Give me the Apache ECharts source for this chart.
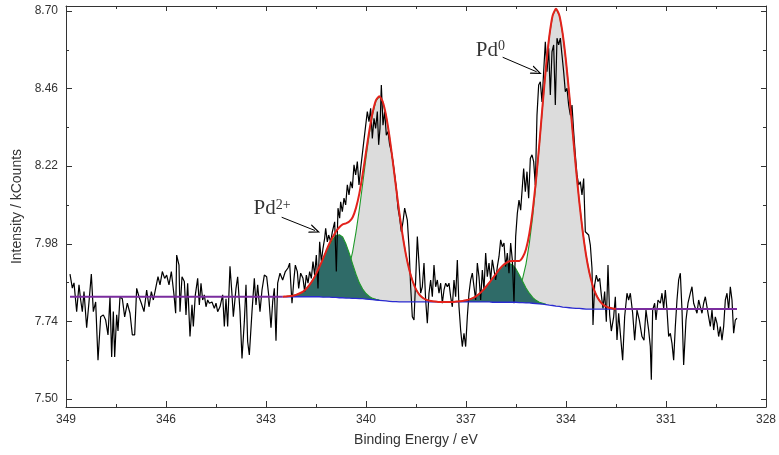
<!DOCTYPE html>
<html>
<head>
<meta charset="utf-8">
<title>Pd 3d XPS</title>
<script src="https://cdn.jsdelivr.net/npm/echarts@6/dist/echarts.min.js"></script>
<style>
  html, body { margin: 0; padding: 0; background: #ffffff; }
  #chart { width: 779px; height: 455px; }
</style>
</head>
<body>
<div id="chart"></div>
<script>
// Measured Pd 3d spectrum: [binding energy (eV), intensity (kCounts)]
const spectrum = [
  [348.88,7.886],[348.81,7.843],[348.76,7.859],[348.68,7.770],[348.61,7.853],[348.56,7.806],[348.51,7.770],[348.46,7.832],[348.38,7.720],[348.31,7.800],
  [348.24,7.886],[348.18,7.770],[348.11,7.800],[348.04,7.620],[347.96,7.754],[347.88,7.760],[347.81,7.744],[347.74,7.698],[347.68,7.816],[347.63,7.630],
  [347.58,7.770],[347.54,7.630],[347.48,7.760],[347.44,7.710],[347.38,7.816],[347.31,7.810],[347.24,7.754],[347.16,7.796],[347.08,7.765],[347.01,7.698],
  [346.94,7.698],[346.88,7.842],[346.81,7.816],[346.74,7.796],[346.66,7.770],[346.58,7.837],[346.51,7.785],[346.44,7.832],[346.38,7.806],[346.31,7.842],
  [346.24,7.878],[346.18,7.853],[346.11,7.894],[346.04,7.873],[345.98,7.883],[345.91,7.853],[345.84,7.894],[345.76,7.822],[345.71,7.765],[345.68,7.945],
  [345.61,7.914],[345.58,7.770],[345.52,7.878],[345.45,7.863],[345.40,7.760],[345.35,7.858],[345.28,7.693],[345.22,7.791],[345.18,7.724],[345.12,7.822],
  [345.05,7.873],[345.00,7.791],[344.95,7.858],[344.90,7.806],[344.85,7.822],[344.80,7.785],[344.75,7.806],[344.70,7.796],[344.62,7.800],[344.55,7.780],
  [344.50,7.796],[344.45,7.770],[344.38,7.785],[344.30,7.822],[344.25,7.724],[344.20,7.810],[344.15,7.724],[344.08,7.910],[344.02,7.822],[343.98,7.754],
  [343.90,7.842],[343.85,7.878],[343.78,7.770],[343.72,7.625],[343.65,7.739],[343.60,7.853],[343.55,7.677],[343.50,7.636],[343.42,7.770],[343.35,7.873],
  [343.30,7.791],[343.25,7.853],[343.18,7.770],[343.12,7.837],[343.05,7.883],[342.98,7.878],[342.92,7.822],[342.85,7.720],[342.80,7.800],[342.75,7.842],
  [342.70,7.680],[342.65,7.858],[342.58,7.889],[342.50,7.868],[342.42,7.894],[342.34,7.905],[342.29,7.920],[342.26,7.863],[342.22,7.796],[342.16,7.873],
  [342.12,7.914],[342.06,7.894],[342.02,7.842],[341.96,7.889],[341.89,7.873],[341.84,7.832],[341.79,7.883],[341.74,7.858],[341.69,7.894],[341.64,7.873],
  [341.59,7.925],[341.54,7.883],[341.49,7.945],[341.44,7.842],[341.39,7.986],[341.34,7.925],[341.29,7.966],[341.24,7.997],[341.21,8.028],[341.16,7.986],
  [341.12,8.007],[341.06,7.986],[341.01,8.017],[340.94,8.048],[340.89,7.894],[340.84,8.090],[340.79,8.059],[340.76,8.110],[340.71,8.079],[340.66,8.121],
  [340.61,8.100],[340.56,8.162],[340.51,8.131],[340.46,8.172],[340.41,8.152],[340.36,8.224],[340.31,8.193],[340.26,8.234],[340.21,8.162],[340.16,8.213],
  [340.09,8.275],[340.02,8.337],[339.96,8.389],[339.91,8.358],[339.86,8.399],[339.81,8.306],[339.76,8.368],[339.71,8.337],[339.66,8.389],[339.62,8.286],
  [339.58,8.337],[339.54,8.471],[339.49,8.347],[339.44,8.389],[339.39,8.316],[339.34,8.327],[339.29,8.286],[339.24,8.265],[339.19,8.234],[339.14,8.193],
  [339.09,8.152],[339.04,8.090],[338.99,8.059],[338.94,8.017],[338.89,8.048],[338.84,8.090],[338.81,8.084],[338.76,8.053],[338.71,7.971],[338.66,7.847],
  [338.61,7.754],[338.56,7.744],[338.51,7.868],[338.46,8.002],[338.41,7.920],[338.36,7.827],[338.31,7.847],[338.26,7.920],[338.21,7.806],[338.16,7.734],
  [338.11,7.827],[338.06,7.868],[338.01,7.816],[337.96,7.914],[337.91,7.847],[337.86,7.868],[337.81,7.827],[337.76,7.858],[337.71,7.796],[337.66,7.837],
  [337.61,7.858],[337.56,7.847],[337.51,7.858],[337.46,7.816],[337.41,7.785],[337.36,7.868],[337.31,7.816],[337.26,7.930],[337.21,7.785],[337.16,7.713],
  [337.11,7.662],[337.06,7.703],[337.01,7.662],[336.96,7.754],[336.91,7.827],[336.86,7.868],[336.81,7.889],[336.76,7.847],[336.71,7.806],[336.66,7.920],
  [336.61,7.878],[336.56,7.806],[336.51,7.899],[336.46,7.837],[336.41,7.951],[336.36,7.878],[336.31,7.920],[336.26,7.868],[336.21,7.930],[336.16,7.899],
  [336.11,7.868],[336.06,7.909],[336.01,7.940],[335.96,7.992],[335.91,7.971],[335.86,7.982],[335.81,7.909],[335.76,7.951],[335.71,7.889],[335.66,7.982],
  [335.61,7.930],[335.56,7.796],[335.51,8.002],[335.46,8.074],[335.41,8.115],[335.36,8.084],[335.27,8.213],[335.22,8.141],[335.17,8.203],[335.12,8.121],
  [335.07,8.244],[335.02,8.255],[334.97,8.234],[334.92,8.162],[334.87,8.378],[334.82,8.471],[334.77,8.481],[334.72,8.419],[334.67,8.512],[334.62,8.605],
  [334.57,8.512],[334.52,8.585],[334.47,8.440],[334.42,8.574],[334.37,8.595],[334.32,8.409],[334.27,8.616],[334.22,8.595],[334.17,8.616],[334.12,8.564],
  [334.07,8.512],[334.02,8.450],[333.97,8.461],[333.92,8.409],[333.87,8.378],[333.82,8.409],[333.77,8.327],[333.72,8.255],[333.67,8.193],[333.62,8.162],
  [333.57,8.172],[333.52,8.131],[333.47,8.182],[333.42,8.017],[333.37,8.017],[333.32,8.007],[333.27,7.976],[333.22,7.904],[333.19,7.729],[333.14,7.853],
  [333.09,7.883],[333.04,7.863],[332.99,7.873],[332.94,7.822],[332.89,7.780],[332.84,7.832],[332.79,7.739],[332.74,7.914],[332.69,7.760],[332.64,7.710],
  [332.57,7.754],[332.52,7.816],[332.47,7.682],[332.42,7.765],[332.37,7.703],[332.30,7.620],[332.24,7.754],[332.17,7.827],[332.12,7.806],[332.07,7.827],
  [332.00,7.765],[331.94,7.682],[331.87,7.775],[331.80,7.744],[331.72,7.693],[331.66,7.682],[331.60,7.775],[331.52,7.713],[331.47,7.662],[331.44,7.559],
  [331.40,7.775],[331.34,7.796],[331.30,7.744],[331.24,7.806],[331.17,7.796],[331.12,7.827],[331.07,7.780],[331.02,7.837],[330.97,7.775],[330.92,7.693],
  [330.87,7.703],[330.82,7.672],[330.77,7.620],[330.72,7.724],[330.67,7.806],[330.62,7.868],[330.57,7.889],[330.52,7.775],[330.47,7.605],[330.40,7.744],
  [330.34,7.796],[330.27,7.827],[330.22,7.847],[330.17,7.796],[330.12,7.800],[330.07,7.765],[330.02,7.806],[329.97,7.785],[329.92,7.765],[329.87,7.796],
  [329.82,7.816],[329.77,7.785],[329.72,7.754],[329.67,7.724],[329.62,7.775],[329.57,7.713],[329.52,7.754],[329.47,7.734],[329.42,7.693],[329.37,7.724],
  [329.32,7.682],[329.27,7.724],[329.22,7.806],[329.17,7.827],[329.12,7.775],[329.07,7.847],[329.02,7.806],[328.97,7.703],[328.92,7.744],[328.87,7.750]
];

// Energy grid of the peak fit (eV)
const fitEnergy = [
  342.5,342.4,342.3,342.2,342.1,342.0,341.9,341.8,341.7,341.6,
  341.5,341.4,341.3,341.2,341.1,341.0,340.9,340.8,340.7,340.6,
  340.5,340.4,340.3,340.2,340.1,340.0,339.9,339.8,339.7,339.6,
  339.5,339.4,339.3,339.2,339.1,339.0,338.9,338.8,338.7,338.6,
  338.5,338.4,338.3,338.2,338.1,338.0,337.9,337.8,337.7,337.6,
  337.5,337.4,337.3,337.2,337.1,337.0,336.9,336.8,336.7,336.6,
  336.5,336.4,336.3,336.2,336.1,336.0,335.9,335.8,335.7,335.6,
  335.5,335.4,335.3,335.2,335.1,335.0,334.9,334.8,334.7,334.6,
  334.5,334.4,334.3,334.2,334.1,334.0,333.9,333.8,333.7,333.6,
  333.5,333.4,333.3,333.2,333.1,333.0,332.9,332.8,332.7,332.6,
  332.5
];

// Shirley background on the fit grid
const background = [
  7.816,7.816,7.816,7.816,7.816,7.816,7.816,7.816,7.816,7.816,
  7.816,7.816,7.815,7.815,7.815,7.814,7.814,7.813,7.813,7.812,
  7.812,7.811,7.811,7.810,7.810,7.809,7.808,7.807,7.806,7.805,
  7.804,7.803,7.802,7.801,7.801,7.800,7.800,7.800,7.800,7.800,
  7.800,7.800,7.800,7.800,7.800,7.800,7.800,7.800,7.800,7.800,
  7.800,7.800,7.800,7.800,7.800,7.800,7.800,7.800,7.800,7.800,
  7.800,7.800,7.800,7.799,7.799,7.799,7.799,7.799,7.799,7.799,
  7.799,7.798,7.798,7.797,7.797,7.796,7.795,7.794,7.793,7.792,
  7.790,7.789,7.787,7.786,7.784,7.783,7.782,7.781,7.780,7.780,
  7.779,7.778,7.778,7.778,7.778,7.778,7.778,7.778,7.778,7.778,
  7.778
];

// Fitted components above background: [energy, height]
const pd2Plus32 = [
  [342.4,0.001],[342.3,0.002],[342.2,0.003],[342.1,0.006],[342.0,0.010],[341.9,0.015],[341.8,0.024],[341.7,0.036],
  [341.6,0.051],[341.5,0.070],[341.4,0.092],[341.3,0.115],[341.2,0.139],[341.1,0.161],[341.0,0.179],[340.9,0.191],
  [340.8,0.195],[340.7,0.188],[340.6,0.167],[340.5,0.138],[340.4,0.106],[340.3,0.075],[340.2,0.049],[340.1,0.030],
  [340.0,0.017],[339.9,0.009],[339.8,0.004],[339.7,0.002],[339.6,0.001]
];
const pd0Metal32 = [
  [341.3,0.001],[341.2,0.002],[341.1,0.004],[341.0,0.007],[340.9,0.013],[340.8,0.023],[340.7,0.039],[340.6,0.064],
  [340.5,0.099],[340.4,0.145],[340.3,0.205],[340.2,0.276],[340.1,0.355],[340.0,0.437],[339.9,0.513],[339.8,0.575],
  [339.7,0.616],[339.6,0.630],[339.5,0.616],[339.4,0.575],[339.3,0.513],[339.2,0.437],[339.1,0.355],[339.0,0.276],
  [338.9,0.205],[338.8,0.145],[338.7,0.099],[338.6,0.064],[338.5,0.039],[338.4,0.023],[338.3,0.013],[338.2,0.007],
  [338.1,0.004],[338.0,0.002],[337.9,0.001]
];
const pd2Plus52 = [
  [337.3,0.001],[337.2,0.002],[337.1,0.003],[337.0,0.005],[336.9,0.008],[336.8,0.012],[336.7,0.017],[336.6,0.025],
  [336.5,0.035],[336.4,0.047],[336.3,0.060],[336.2,0.074],[336.1,0.088],[336.0,0.101],[335.9,0.111],[335.8,0.118],
  [335.7,0.120],[335.6,0.115],[335.5,0.103],[335.4,0.085],[335.3,0.065],[335.2,0.046],[335.1,0.030],[335.0,0.018],
  [334.9,0.010],[334.8,0.005],[334.7,0.003],[334.6,0.001]
];
const pd0Metal52 = [
  [336.0,0.001],[335.9,0.002],[335.8,0.003],[335.7,0.007],[335.6,0.013],[335.5,0.025],[335.4,0.044],[335.3,0.075],
  [335.2,0.120],[335.1,0.184],[335.0,0.268],[334.9,0.372],[334.8,0.490],[334.7,0.615],[334.6,0.734],[334.5,0.832],
  [334.4,0.897],[334.3,0.920],[334.2,0.901],[334.1,0.846],[334.0,0.762],[333.9,0.658],[333.8,0.545],[333.7,0.432],
  [333.6,0.329],[333.5,0.240],[333.4,0.168],[333.3,0.113],[333.2,0.073],[333.1,0.045],[333.0,0.027],[332.9,0.015],
  [332.8,0.008],[332.7,0.004],[332.6,0.002],[332.5,0.001]
];

// Axis ticks
const energyTickStep = 3;
const yMajorTicks = [7.50, 7.74, 7.98, 8.22, 8.46, 8.70];
const yMinorTicks = [7.62, 7.86, 8.10, 8.34, 8.58];

// Annotations: label anchor and arrow [from, to]
const labelPd0 = { text: '{b|Pd}{s|0}', at: [336.27, 8.579] };
const labelPd2 = { text: '{b|Pd}{s|2+}', at: [342.82, 8.088] };
const arrowPd0 = [[335.90, 8.557], [334.88, 8.512]];
const arrowPd2 = [[342.53, 8.062], [341.53, 8.021]];

// ---- derived series ----
const key = e => e.toFixed(1);
const bgAt = new Map(fitEnergy.map((e, i) => [key(e), background[i]]));
const components = [pd2Plus32, pd0Metal32, pd2Plus52, pd0Metal52];
const envelope = fitEnergy.map((e, i) => {
  let sum = background[i];
  components.forEach(c => {
    const hit = c.find(p => key(p[0]) === key(e));
    if (hit) sum += hit[1];
  });
  return [e, sum];
});
const bgLine = fitEnergy.map((e, i) => [e, background[i]]);
const leftFlat = [[spectrum[0][0], background[0]], [fitEnergy[0], background[0]]];
const rightFlat = [[fitEnergy[fitEnergy.length - 1], background[background.length - 1]],
                   [spectrum[spectrum.length - 1][0], background[background.length - 1]]];

const AX = '#333333';
const SANS = '"Liberation Sans", Arial, Helvetica, sans-serif';
const SERIF = '"Liberation Serif", "Times New Roman", serif';
const Y_MIN = 7.475, Y_MAX = 8.7155;

function fillSeries(comp, color, z) {
  const peak = comp.reduce((a, b) => (b[1] > a[1] ? b : a));
  return {
    type: 'custom',
    coordinateSystem: 'cartesian2d',
    silent: true,
    z: z,
    data: [[peak[0], bgAt.get(key(peak[0])) + peak[1]]],
    renderItem: function (params, api) {
      const top = comp.map(p => api.coord([p[0], bgAt.get(key(p[0])) + p[1]]));
      const bottom = comp.map(p => api.coord([p[0], bgAt.get(key(p[0]))])).reverse();
      return { type: 'polygon', shape: { points: top.concat(bottom) }, style: { fill: color } };
    }
  };
}
function outlineSeries(comp, z) {
  return {
    type: 'line', silent: true, z: z, symbol: 'none',
    data: comp.map(p => [p[0], bgAt.get(key(p[0])) + p[1]]),
    lineStyle: { color: '#1e9a2a', width: 1.1 }
  };
}
const arrowHead = 'path://M5,0 L10,10 L8.6,10 L5,2.8 L1.4,10 L0,10 Z';
function annotation(label, arrow) {
  return {
    type: 'scatter', silent: true, z: 10, symbolSize: 0,
    data: [label.at],
    label: {
      show: true, position: 'inside', formatter: label.text,
      rich: {
        b: { fontFamily: SERIF, fontSize: 21, lineHeight: 21, color: '#000', verticalAlign: 'bottom' },
        s: { fontFamily: SERIF, fontSize: 14, lineHeight: 21, color: '#000', verticalAlign: 'top' }
      }
    },
    markLine: {
      silent: true, animation: false,
      label: { show: false },
      lineStyle: { color: '#000', width: 1, type: 'solid' },
      data: [[
        { coord: arrow[0], symbol: 'none' },
        { coord: arrow[1], symbol: arrowHead, symbolSize: [9, 11] }
      ]]
    }
  };
}

const baseX = {
  type: 'value', min: 328, max: 349, inverse: true, interval: energyTickStep,
  splitLine: { show: false },
  axisLine: { show: true, onZero: false, lineStyle: { color: AX, width: 1 } }
};
const baseY = {
  type: 'value', min: Y_MIN, max: Y_MAX,
  splitLine: { show: false }
};

const chart = echarts.init(document.getElementById('chart'), null, { renderer: 'canvas' });
chart.setOption({
  animation: false,
  backgroundColor: '#ffffff',
  grid: { left: 66, right: 13, top: 6, bottom: 48, containLabel: false },
  xAxis: [
    Object.assign({}, baseX, {
      position: 'bottom',
      axisTick: { show: true, inside: true, length: 6, lineStyle: { color: AX } },
      minorTick: { show: true, splitNumber: 2, length: 3, lineStyle: { color: AX } },
      axisLabel: { color: AX, fontSize: 12, fontFamily: SANS, margin: 7 },
      name: 'Binding Energy / eV', nameLocation: 'middle', nameGap: 26,
      nameTextStyle: { color: AX, fontSize: 14, fontFamily: SANS }
    }),
    Object.assign({}, baseX, {
      position: 'top',
      axisTick: { show: true, inside: true, length: 5, lineStyle: { color: AX } },
      minorTick: { show: true, splitNumber: 2, length: 3, lineStyle: { color: AX } },
      axisLabel: { show: false }
    })
  ],
  yAxis: [
    Object.assign({}, baseY, {
      position: 'left',
      axisLine: { show: true, onZero: false, lineStyle: { color: AX, width: 1 } },
      axisTick: { show: true, inside: true, length: 6, customValues: yMajorTicks, lineStyle: { color: AX } },
      axisLabel: { color: AX, fontSize: 12, fontFamily: SANS, margin: 8, customValues: yMajorTicks,
                   formatter: v => Number(v).toFixed(2) },
      name: 'Intensity / kCounts', nameLocation: 'middle', nameGap: 41, nameRotate: 90,
      nameTextStyle: { color: AX, fontSize: 14, fontFamily: SANS }
    }),
    Object.assign({}, baseY, {
      position: 'left',
      axisLine: { show: false },
      axisTick: { show: true, inside: true, length: 3, customValues: yMinorTicks, lineStyle: { color: AX } },
      axisLabel: { show: false }
    }),
    Object.assign({}, baseY, {
      position: 'right',
      axisLine: { show: true, onZero: false, lineStyle: { color: AX, width: 1 } },
      axisTick: { show: true, inside: true, length: 5, customValues: yMajorTicks, lineStyle: { color: AX } },
      axisLabel: { show: false }
    }),
    Object.assign({}, baseY, {
      position: 'right',
      axisLine: { show: false },
      axisTick: { show: true, inside: true, length: 3, customValues: yMinorTicks, lineStyle: { color: AX } },
      axisLabel: { show: false }
    })
  ],
  series: [
    fillSeries(pd0Metal32, '#dcdcdc', 1),
    fillSeries(pd0Metal52, '#dcdcdc', 1),
    outlineSeries(pd0Metal32, 2),
    outlineSeries(pd0Metal52, 2),
    fillSeries(pd2Plus32, '#2f6b68', 3),
    fillSeries(pd2Plus52, '#2f6b68', 3),
    outlineSeries(pd2Plus32, 4),
    outlineSeries(pd2Plus52, 4),
    {
      name: 'spectrum', type: 'line', z: 5, symbol: 'none', silent: true,
      data: spectrum, lineStyle: { color: '#000000', width: 1.2 }
    },
    {
      name: 'background', type: 'line', z: 6, symbol: 'none', silent: true,
      data: bgLine, lineStyle: { color: '#2a2ad0', width: 1.3 }
    },
    {
      name: 'envelope', type: 'line', z: 7, symbol: 'none', silent: true, smooth: 0.2,
      data: envelope, lineStyle: { color: '#e3221c', width: 2 }
    },
    {
      type: 'line', z: 7, symbol: 'none', silent: true,
      data: leftFlat, lineStyle: { color: '#7a2c9e', width: 2 }
    },
    {
      type: 'line', z: 7, symbol: 'none', silent: true,
      data: rightFlat, lineStyle: { color: '#7a2c9e', width: 2 }
    },
    annotation(labelPd0, arrowPd0),
    annotation(labelPd2, arrowPd2)
  ]
});
</script>
</body>
</html>
